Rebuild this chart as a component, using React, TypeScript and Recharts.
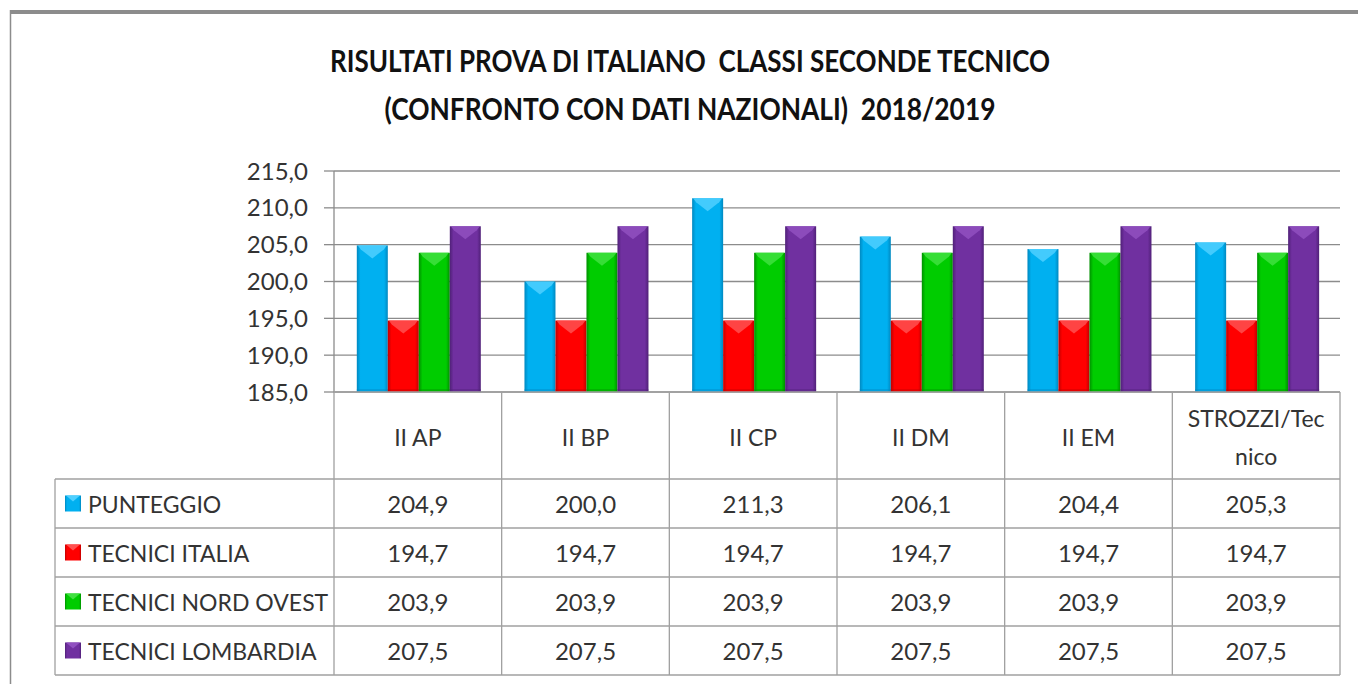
import React from "react";
import {Bar, BarChart, CartesianGrid, Customized, XAxis, YAxis} from "recharts";

const categories = ["II AP", "II BP", "II CP", "II DM", "II EM", "STROZZI/Tecnico"];
const punteggio = [204.9, 200.0, 211.3, 206.1, 204.4, 205.3];
const tecniciItalia = [194.7, 194.7, 194.7, 194.7, 194.7, 194.7];
const tecniciNordOvest = [203.9, 203.9, 203.9, 203.9, 203.9, 203.9];
const tecniciLombardia = [207.5, 207.5, 207.5, 207.5, 207.5, 207.5];
const yTicks = [185, 190, 195, 200, 205, 210, 215];

const series = [
    {key: "punteggio", name: "PUNTEGGIO", values: punteggio, color: "#00B0F0", light: "#4fd0ff", dark: "#0088c0"},
    {key: "italia", name: "TECNICI ITALIA", values: tecniciItalia, color: "#FF0000", light: "#ff5050", dark: "#c00000"},
    {key: "nordOvest", name: "TECNICI NORD OVEST", values: tecniciNordOvest, color: "#00CC00", light: "#40e040", dark: "#009000"},
    {key: "lombardia", name: "TECNICI LOMBARDIA", values: tecniciLombardia, color: "#7030A0", light: "#9050c0", dark: "#502078"},
];

const data = categories.map((c, i) => {
    const row: Record<string, string | number> = {name: c};
    series.forEach(s => (row[s.key] = s.values[i]));
    return row;
});

const W = 1358;
const H = 684;
const PLOT_LEFT = 334;
const PLOT_RIGHT = 1340;
const PLOT_TOP = 171;
const PLOT_BOTTOM = 392;
const Y_AXIS_W = 80;
const BAND = (PLOT_RIGHT - PLOT_LEFT) / categories.length;
const TABLE_LEFT = 55;
const ROW_LINES = [479, 528, 577, 626, 675];
const FONT = "Lato, 'Open Sans', sans-serif";
const TEXT = "#333";
const LINE = "#a0a0a0";

const fmt = (v: number) => v.toFixed(1).replace(".", ",");

const BevelBar = (props: any) => {
    const {x, y, width, height, seriesKey} = props;
    if (!height || height <= 0) return null;
    const s = series.find(d => d.key === seriesKey)!;
    const tri = Math.min(13, height);
    return (
        <g>
            <rect x={x} y={y} width={width} height={height} fill={`url(#grad-${s.key})`}/>
            <polygon
                points={`${x + 1},${y} ${x + width - 1},${y} ${x + width - 4},${y + 4} ${x + width / 2},${y + tri} ${x + 4},${y + 4}`}
                fill={s.light}
                opacity={0.85}
            />
            <rect x={x} y={y + height - 3} width={width} height={3} fill={s.dark} opacity={0.4}/>
        </g>
    );
};

const CategoryTick = (props: any) => {
    const {x, payload, index} = props;
    const label: string = payload.value;
    const lines = label.length > 12 ? [label.slice(0, 11), label.slice(11)] : [label];
    const right = x + BAND / 2;
    return (
        <g>
            <line x1={right} y1={PLOT_BOTTOM} x2={right} y2={ROW_LINES[4]} stroke={LINE} strokeWidth={1.3}/>
            {lines.length === 1 ? (
                <text x={x} y={437} textAnchor="middle" dominantBaseline="central" fontFamily={FONT} fontSize={23} fill={TEXT}>
                    {label}
                </text>
            ) : (
                lines.map((l, k) => (
                    <text key={k} x={x} y={418 + k * 38} textAnchor="middle" dominantBaseline="central" fontFamily={FONT} fontSize={23} fill={TEXT}>
                        {l}
                    </text>
                ))
            )}
            {series.map((s, r) => (
                <text
                    key={s.key}
                    x={x}
                    y={(ROW_LINES[r] + ROW_LINES[r + 1]) / 2}
                    textAnchor="middle"
                    dominantBaseline="central"
                    fontFamily={FONT}
                    fontSize={24}
                    fill={TEXT}
                >
                    {fmt(s.values[index])}
                </text>
            ))}
        </g>
    );
};

const Decorations = () => (
    <g>
        {/* outer frame */}
        <rect x={10} y={10} width={W - 10} height={4} fill="#8c8c8c"/>
        <line x1={10.5} y1={10} x2={10.5} y2={H} stroke="#8c8c8c" strokeWidth={1.5}/>
        {/* title */}
        <text x={690} y={60} textAnchor="middle" dominantBaseline="central" fontFamily={FONT} fontWeight="bold" fontSize={30}
              fill="#111" textLength={720} lengthAdjust="spacingAndGlyphs" style={{whiteSpace: "pre"}}>
            {"RISULTATI PROVA DI ITALIANO  CLASSI SECONDE TECNICO"}
        </text>
        <text x={690} y={108} textAnchor="middle" dominantBaseline="central" fontFamily={FONT} fontWeight="bold" fontSize={30}
              fill="#111" textLength={611} lengthAdjust="spacingAndGlyphs" style={{whiteSpace: "pre"}}>
            {"(CONFRONTO CON DATI NAZIONALI)  2018/2019"}
        </text>
        {/* table lines */}
        <line x1={PLOT_LEFT} y1={PLOT_BOTTOM} x2={PLOT_LEFT} y2={ROW_LINES[4]} stroke={LINE} strokeWidth={1.3}/>
        <line x1={TABLE_LEFT} y1={ROW_LINES[0]} x2={TABLE_LEFT} y2={ROW_LINES[4]} stroke={LINE} strokeWidth={1.3}/>
        {ROW_LINES.map(y => (
            <line key={y} x1={TABLE_LEFT} y1={y} x2={PLOT_RIGHT} y2={y} stroke={LINE} strokeWidth={1.3}/>
        ))}
        {/* legend keys */}
        {series.map((s, r) => {
            const cy = (ROW_LINES[r] + ROW_LINES[r + 1]) / 2;
            return (
                <g key={s.key}>
                    <rect x={65} y={cy - 8} width={16} height={16} fill={`url(#grad-${s.key})`}/>
                    <polygon points={`${66},${cy - 8} ${80},${cy - 8} ${73},${cy - 2}`} fill={s.light}/>
                    <text x={88} y={cy} dominantBaseline="central" fontFamily={FONT} fontSize={23} fill={TEXT}>
                        {s.name}
                    </text>
                </g>
            );
        })}
    </g>
);

const App: React.FC = () => {
    return (
        <div style={{position: "absolute", left: 0, top: 0, width: W, height: H, background: "#fff"}}>
            <BarChart
                width={W}
                height={H}
                data={data}
                margin={{top: PLOT_TOP, right: W - PLOT_RIGHT, bottom: 11, left: PLOT_LEFT - Y_AXIS_W}}
                barGap={0}
                barCategoryGap="13.6%"
            >
                <defs>
                    {series.map(s => (
                        <linearGradient key={s.key} id={`grad-${s.key}`} x1="0" y1="0" x2="1" y2="0">
                            <stop offset="0%" stopColor={s.dark}/>
                            <stop offset="12%" stopColor={s.color}/>
                            <stop offset="50%" stopColor={s.color}/>
                            <stop offset="88%" stopColor={s.color}/>
                            <stop offset="100%" stopColor={s.dark}/>
                        </linearGradient>
                    ))}
                </defs>
                <Customized component={<Decorations/>}/>
                <CartesianGrid vertical={false} stroke="#8c8c8c" strokeWidth={1.3}/>
                <YAxis
                    width={Y_AXIS_W}
                    domain={[185, 215]}
                    ticks={yTicks}
                    tickFormatter={fmt}
                    tickSize={10}
                    tickMargin={16}
                    allowDataOverflow
                    axisLine={{stroke: "#8c8c8c", strokeWidth: 1.3}}
                    tickLine={{stroke: "#8c8c8c", strokeWidth: 1.3}}
                    tick={{fill: TEXT, fontSize: 24, fontFamily: FONT}}
                />
                <XAxis
                    dataKey="name"
                    height={H - 11 - PLOT_BOTTOM}
                    tickLine={false}
                    axisLine={{stroke: LINE, strokeWidth: 1.3}}
                    tick={<CategoryTick/>}
                    interval={0}
                />
                {series.map(s => (
                    <Bar
                        key={s.key}
                        dataKey={s.key}
                        name={s.name}
                        fill={s.color}
                        isAnimationActive={false}
                        shape={(p: any) => <BevelBar {...p} seriesKey={s.key}/>}
                    />
                ))}
            </BarChart>
        </div>
    );
};

export default App;
